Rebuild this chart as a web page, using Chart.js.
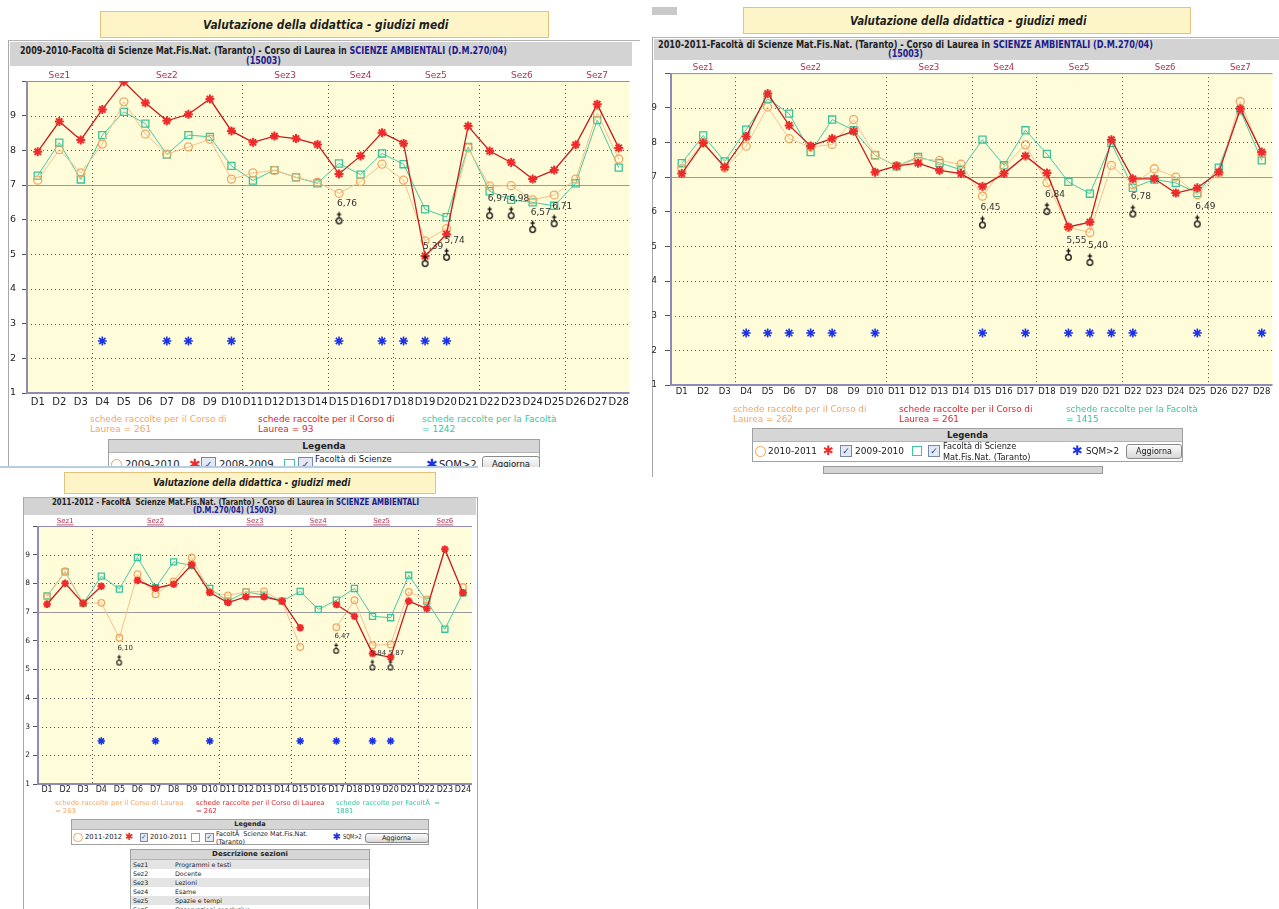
<!DOCTYPE html>
<html>
<head>
<meta charset="utf-8">
<script src="https://cdn.jsdelivr.net/npm/chart.js@4.4.1/dist/chart.umd.min.js"></script>
<style>
body{margin:0;width:1279px;height:909px;position:relative;overflow:hidden;background:#fff;font-family:"DejaVu Sans",sans-serif;color:#222}
canvas{position:absolute}
.title{position:absolute;background:#fdf5c8;border:1px solid #e3c27c;box-sizing:border-box}
.tt{position:absolute;white-space:nowrap;font-weight:bold;font-style:italic;font-size:12px;line-height:14px;transform-origin:0 50%;color:#1e1e1e}
.panel{position:absolute;border-left:1px solid #a8a8a8;border-top:1px solid #b4b4b4;box-sizing:border-box}
.band{position:absolute;background:#d3d3d3}
.hd{position:absolute;white-space:nowrap;font-weight:bold;font-size:10px;line-height:12px;transform-origin:0 50%}
.nv{color:#1c1c8c}
.note{position:absolute;white-space:nowrap}
.or{color:#f5a665}.rd{color:#e0262b}.gr{color:#3cc59e}
.leg{position:absolute;border:1px solid #a0a0a0;box-sizing:border-box;background:#fff}
.lh{background:#d6d6d6;font-weight:bold;text-align:center;border-bottom:1px solid #b4b4b4}
.leg span{position:absolute;white-space:nowrap;transform-origin:0 50%}
.circ{border:1.5px solid #f0a55c;border-radius:50%;box-sizing:border-box}
.sq{border:1.5px solid #3cc59e;box-sizing:border-box}
.chk{border:1px solid #7888aa;background:#e3e8f2;box-sizing:border-box;color:#2a3d8f;text-align:center;font-weight:bold}
.btn{border:1px solid #8a8a8a;border-radius:3px;background:linear-gradient(#fbfbfb,#d8d8d8);text-align:center;box-sizing:border-box}
.ast{line-height:1}
.tab{position:absolute;border:1px solid #a0a0a0;box-sizing:border-box;background:#fff;overflow:hidden}
.tab div{position:relative;height:9px;font-size:6.3px;line-height:9px;color:#222}
.tab div span{position:absolute}
</style>
</head>
<body>

<!-- chart 1 -->
<div style="position:absolute;left:0;top:0;width:640px;height:467px;overflow:hidden">
  <div class="title" style="left:100px;top:11px;width:449px;height:27px"></div>
  <span class="tt" data-w="245" style="left:203px;top:18px">Valutazione della didattica - giudizi medi</span>
  <div class="panel" style="left:8px;top:40px;width:632px;height:440px"></div>
  <div class="band" style="left:10px;top:42px;width:622px;height:24px"></div>
  <span class="hd" data-w="487" style="left:20px;top:45px">2009-2010-Facoltà di Scienze Mat.Fis.Nat. (Taranto) - Corso di Laurea in <span class="nv">SCIENZE AMBIENTALI (D.M.270/04)</span></span>
  <span class="hd nv" data-w="35" style="left:246px;top:55px">(15003)</span>
  <canvas id="c1" width="636" height="347" style="left:0;top:66px"></canvas>
  <div class="note or" style="left:90px;top:414px;font-size:9px;line-height:10.3px">schede raccolte per il Corso di<br>Laurea = 261</div>
  <div class="note rd" style="left:258px;top:414px;font-size:9px;line-height:10.3px">schede raccolte per il Corso di<br>Laurea = 93</div>
  <div class="note gr" style="left:422px;top:414px;font-size:9px;line-height:10.3px">schede raccolte per la Facoltà<br>= 1242</div>
  <div class="leg" style="left:108px;top:439px;width:432px;height:40px">
    <div class="lh" style="height:12px;font-size:9px;line-height:12px">Legenda</div>
    <span class="circ" style="left:2px;top:19px;width:11px;height:11px"></span>
    <span style="left:16px;top:18px;font-size:10px;line-height:13px">2009-2010</span>
    <span class="ast" style="left:80px;top:17px;font-size:14px;color:#ee2a2a">✱</span>
    <span class="chk" style="left:92px;top:17px;width:15px;height:15px;font-size:10px;line-height:13px">✓</span>
    <span style="left:110px;top:18px;font-size:10px;line-height:13px">2008-2009</span>
    <span class="sq" style="left:175px;top:19px;width:11px;height:11px"></span>
    <span class="chk" style="left:189px;top:17px;width:15px;height:15px;font-size:10px;line-height:13px">✓</span>
    <span style="left:206px;top:14px;font-size:8.6px;line-height:11px">Facoltà di Scienze<br>Mat.Fis.Nat. (Taranto)</span>
    <span class="ast" style="left:317px;top:17px;font-size:14px;color:#1b32e6">✱</span>
    <span style="left:330px;top:18px;font-size:10px;line-height:13px">SQM&gt;2</span>
    <span class="btn" style="left:373px;top:16px;width:58px;height:17px;font-size:8.5px;line-height:15px">Aggiorna</span>
  </div>
</div>
<div style="position:absolute;left:0;top:466px;width:478px;height:2px;background:#b9cde0"></div>

<!-- chart 2 -->
<div style="position:absolute;left:652px;top:7px;width:25px;height:8px;background:#c9c9c9"></div>
<div class="title" style="left:743px;top:7px;width:448px;height:27px"></div>
<span class="tt" data-w="236" style="left:850px;top:13.5px">Valutazione della didattica - giudizi medi</span>
<div class="panel" style="left:652px;top:37px;width:627px;height:440px"></div>
<div class="band" style="left:654px;top:39px;width:625px;height:21px"></div>
<span class="hd" data-w="495" style="left:658px;top:39px">2010-2011-Facoltà di Scienze Mat.Fis.Nat. (Taranto) - Corso di Laurea in <span class="nv">SCIENZE AMBIENTALI (D.M.270/04)</span></span>
<span class="hd nv" data-w="35" style="left:888px;top:48px">(15003)</span>
<canvas id="c2" width="633" height="345" style="left:646px;top:60px"></canvas>
<div class="note or" style="left:733px;top:404px;font-size:8.8px;line-height:10px">schede raccolte per il Corso di<br>Laurea = 262</div>
<div class="note rd" style="left:899px;top:404px;font-size:8.8px;line-height:10px">schede raccolte per il Corso di<br>Laurea = 261</div>
<div class="note gr" style="left:1066px;top:404px;font-size:8.8px;line-height:10px">schede raccolte per la Facoltà<br>= 1415</div>
<div class="leg" style="left:752px;top:428px;width:431px;height:34px">
  <div class="lh" style="height:12px;font-size:8.5px;line-height:12px">Legenda</div>
  <span class="circ" style="left:2px;top:17px;width:10.5px;height:10.5px"></span>
  <span style="left:15px;top:16px;font-size:9px;line-height:13px">2010-2011</span>
  <span class="ast" style="left:70px;top:15px;font-size:13px;color:#ee2a2a">✱</span>
  <span class="chk" style="left:87px;top:16px;width:12px;height:12px;font-size:9px;line-height:11px">✓</span>
  <span style="left:102px;top:16px;font-size:9px;line-height:13px">2009-2010</span>
  <span class="sq" style="left:159px;top:17px;width:10px;height:10px"></span>
  <span class="chk" style="left:175px;top:16px;width:12px;height:12px;font-size:9px;line-height:11px">✓</span>
  <span style="left:190px;top:12px;font-size:8.2px;line-height:11px">Facoltà di Scienze<br>Mat.Fis.Nat. (Taranto)</span>
  <span class="ast" style="left:319px;top:15px;font-size:13px;color:#1b32e6">✱</span>
  <span style="left:333px;top:16px;font-size:8.8px;line-height:13px">SQM&gt;2</span>
  <span class="btn" style="left:373px;top:15px;width:56px;height:15px;font-size:8px;line-height:13px">Aggiorna</span>
</div>
<div style="position:absolute;left:823px;top:466px;width:280px;height:8px;border:1px solid #9a9a9a;background:#d4d4d4;box-sizing:border-box"></div>

<!-- chart 3 -->
<div class="title" style="left:64px;top:472px;width:372px;height:21.5px"></div>
<span class="tt" data-w="197" style="left:153px;top:476px;font-size:10px;line-height:14px">Valutazione della didattica - giudizi medi</span>
<div class="panel" style="left:23px;top:497px;width:455px;height:420px;border-right:1px solid #a8a8a8"></div>
<div class="band" style="left:24px;top:498px;width:452px;height:16.5px"></div>
<span class="hd" data-w="367" style="left:52px;top:497px;font-size:8px;line-height:12px">2011-2012 - FacoltÃ&nbsp; Scienze Mat.Fis.Nat. (Taranto) - Corso di Laurea in <span class="nv">SCIENZE AMBIENTALI</span></span>
<span class="hd nv" data-w="84" style="left:193px;top:504.5px;font-size:8px;line-height:12px">(D.M.270/04) (15003)</span>
<canvas id="c3" width="454" height="285" style="left:24px;top:515px"></canvas>
<div class="note or" style="left:55px;top:800px;font-size:6.8px;line-height:7.7px">schede raccolte per il Corso di Laurea<br>= 263</div>
<div class="note rd" style="left:196px;top:800px;font-size:6.8px;line-height:7.7px">schede raccolte per il Corso di Laurea<br>= 262</div>
<div class="note gr" style="left:336px;top:800px;font-size:6.8px;line-height:7.7px">schede raccolte per FacoltÃ&nbsp; =<br>1881</div>
<div class="leg" style="left:71px;top:819px;width:358px;height:26px">
  <div class="lh" style="height:9px;font-size:6.5px;line-height:9px">Legenda</div>
  <span class="circ" style="left:1px;top:12.5px;width:9.5px;height:9.5px"></span>
  <span data-w="37" style="left:12.5px;top:12px;font-size:7px;line-height:10px">2011-2012</span>
  <span class="ast" style="left:53px;top:12px;font-size:10px;color:#ee2a2a">✱</span>
  <span class="chk" style="left:67.5px;top:13px;width:8.5px;height:8.5px;font-size:6.5px;line-height:7px">✓</span>
  <span data-w="37" style="left:78px;top:12px;font-size:7px;line-height:10px">2010-2011</span>
  <span class="sq" style="left:119px;top:12.5px;width:9px;height:9px"></span>
  <span class="chk" style="left:133px;top:13px;width:8.5px;height:8.5px;font-size:6.5px;line-height:7px">✓</span>
  <span data-w="92" style="left:143.5px;top:9.5px;font-size:6.5px;line-height:8.5px">FacoltÃ&nbsp; Scienze Mat.Fis.Nat.<br>(Taranto)</span>
  <span class="ast" style="left:260.5px;top:12px;font-size:10px;color:#1b32e6">✱</span>
  <span data-w="18.5" style="left:271px;top:12px;font-size:7px;line-height:10px">SQM&gt;2</span>
  <span class="btn" style="left:292.5px;top:12.5px;width:64px;height:10px;font-size:6.5px;line-height:8px">Aggiorna</span>
</div>
<div class="tab" style="left:130px;top:849px;width:240px;height:70px">
  <div class="lh" style="height:9px;font-size:7px;line-height:9px">Descrizione sezioni</div>
  <div style="background:#e4e4e4"><span style="left:2px">Sez1</span><span style="left:44px">Programmi e testi</span></div>
  <div><span style="left:2px">Sez2</span><span style="left:44px">Docente</span></div>
  <div style="background:#e4e4e4"><span style="left:2px">Sez3</span><span style="left:44px">Lezioni</span></div>
  <div><span style="left:2px">Sez4</span><span style="left:44px">Esame</span></div>
  <div style="background:#e4e4e4"><span style="left:2px">Sez5</span><span style="left:44px">Spazie e tempi</span></div>
  <div><span style="left:2px">Sez6</span><span style="left:44px">Osservazioni conclusive</span></div>
</div>

<script>
// ---- 2009-2010 (top left)
const days1 = ['D1','D2','D3','D4','D5','D6','D7','D8','D9','D10','D11','D12','D13','D14','D15','D16','D17','D18','D19','D20','D21','D22','D23','D24','D25','D26','D27','D28']
const sez1 = ['Sez1','Sez2','Sez3','Sez4','Sez5','Sez6','Sez7']
const sezFirst1 = [0,3,10,14,17,21,25]
const orange1 = [7.14,8.02,7.35,8.18,9.40,8.47,7.89,8.10,8.32,7.17,7.35,7.42,7.22,7.08,6.76,7.10,7.60,7.14,5.39,5.74,8.07,6.97,6.98,6.57,6.71,7.17,9.07,7.75]
const red1 = [7.96,8.83,8.30,9.18,9.98,9.37,8.85,9.04,9.48,8.56,8.23,8.41,8.34,8.17,7.32,7.84,8.51,8.20,4.95,5.58,8.70,7.98,7.65,7.17,7.43,8.16,9.33,8.07]
const green1 = [7.27,8.22,7.16,8.44,9.11,8.77,7.88,8.44,8.39,7.55,7.13,7.43,7.22,7.05,7.62,7.30,7.91,7.60,6.30,6.07,8.10,6.82,6.57,6.50,6.40,7.05,8.87,7.50]
const sqm1 = [null,null,null,2.5,null,null,2.5,2.5,null,2.5,null,null,null,null,2.5,null,2.5,2.5,2.5,2.5,null,null,null,null,null,null,null,null]
const flag1 = [null,null,null,null,null,null,null,null,null,null,null,null,null,null,6.05,null,null,null,4.82,5.00,null,6.20,6.20,5.80,5.97,null,null,null]

// ---- 2010-2011 (top right)
const days2 = days1
const sez2 = sez1
const sezFirst2 = [0,3,10,14,17,21,25]
const orange2 = [7.24,8.00,7.26,7.89,9.02,8.11,7.87,7.94,8.66,7.63,7.32,7.53,7.48,7.37,6.45,7.29,7.93,6.84,5.55,5.40,7.34,6.78,7.24,7.00,6.49,7.10,9.18,7.67]
const red2 = [7.10,7.98,7.29,8.17,9.41,8.49,7.90,8.11,8.32,7.14,7.32,7.40,7.19,7.10,6.73,7.10,7.61,7.12,5.56,5.70,8.08,6.95,6.95,6.54,6.69,7.14,8.97,7.72]
const green2 = [7.40,8.20,7.45,8.37,9.26,8.83,7.72,8.66,8.35,7.63,7.31,7.58,7.41,7.21,8.08,7.34,8.35,7.67,6.86,6.52,7.98,6.69,6.93,6.83,6.54,7.27,8.92,7.48]
const sqm2 = [null,null,null,2.5,2.5,2.5,2.5,2.5,null,2.5,null,null,null,null,2.5,null,2.5,null,2.5,2.5,2.5,2.5,null,null,2.5,null,null,2.5]
const flag2 = [null,null,null,null,null,null,null,null,null,null,null,null,null,null,5.70,null,null,6.09,4.77,4.62,null,6.02,null,null,5.73,null,null,null]

// ---- 2011-2012 (bottom left)
const days3 = ['D1','D2','D3','D4','D5','D6','D7','D8','D9','D10','D11','D12','D13','D14','D15','D16','D17','D18','D19','D20','D21','D22','D23','D24']
const sez3 = ['Sez1','Sez2','Sez3','Sez4','Sez5','Sez6']
const sezFirst3 = [0,3,10,14,17,21]
const orange3 = [7.53,8.42,7.30,7.32,6.10,8.32,7.62,8.07,8.90,7.70,7.58,7.70,7.72,7.38,5.78,null,6.47,7.41,5.84,5.87,7.70,7.44,null,7.87]
const red3 = [7.27,8.00,7.30,7.90,null,8.10,7.83,7.97,8.65,7.68,7.33,7.53,7.53,7.38,6.45,null,7.26,6.85,5.55,5.42,7.38,7.12,9.19,7.67]
const green3 = [7.56,8.40,7.30,8.25,7.80,8.90,7.85,8.75,8.62,7.82,7.38,7.70,7.59,7.38,7.72,7.09,7.41,7.82,6.85,6.80,8.28,7.38,6.40,7.67]
const sqm3 = [null,null,null,2.5,null,null,2.5,null,null,2.5,null,null,null,null,2.5,null,2.5,null,2.5,2.5,null,null,null,null]
const flag3 = [null,null,null,null,5.32,null,null,null,null,null,null,null,null,null,null,null,5.73,null,5.15,5.15,null,null,null,null]

Chart.defaults.font.family = '"DejaVu Sans"'
Chart.defaults.color = '#222'

// little "low value" marker
function markerImg(k){
  const c = document.createElement('canvas')
  c.width = Math.round(9*k)
  c.height = Math.round(15*k)
  const g = c.getContext('2d')
  g.scale(k,k)
  g.strokeStyle = '#111'
  g.lineWidth = 1.3
  g.beginPath(); g.arc(4.5,10.5,2.8,0,Math.PI*2); g.stroke()
  g.beginPath(); g.moveTo(4.5,7.7); g.lineTo(4.5,1.5); g.moveTo(2.5,4); g.lineTo(6.5,4); g.stroke()
  return c
}

function sheet(names, first, orange, flag, s){
  return {
    id:'sheet',
    beforeDraw(chart){
      const {ctx, chartArea:a} = chart
      ctx.save()
      ctx.fillStyle = '#fffcd9'
      ctx.fillRect(a.left, a.top, a.right-a.left, a.bottom-a.top)
      ctx.restore()
    },
    beforeDatasetsDraw(chart){
      const {ctx, chartArea:a, scales:{x,y}} = chart
      ctx.save()
      ctx.lineWidth = 1
      for (let v = 2; v <= 9; v++) {
        const py = Math.round(y.getPixelForValue(v)) + 0.5
        if (v === 7) { ctx.setLineDash([]); ctx.strokeStyle = '#9a9a9a' }
        else { ctx.setLineDash([1,3]); ctx.strokeStyle = '#555' }
        ctx.beginPath(); ctx.moveTo(a.left, py); ctx.lineTo(a.right, py); ctx.stroke()
      }
      ctx.setLineDash([1,3]); ctx.strokeStyle = '#555'
      first.slice(1).forEach(i => {
        const px = Math.round((x.getPixelForValue(i-1) + x.getPixelForValue(i))/2) + 0.5
        ctx.beginPath(); ctx.moveTo(px, a.top); ctx.lineTo(px, a.bottom); ctx.stroke()
      })
      ctx.setLineDash([])
      ctx.strokeStyle = '#8f8bb6'
      ctx.beginPath(); ctx.moveTo(a.left, a.top+0.5); ctx.lineTo(a.right, a.top+0.5); ctx.stroke()
      ctx.lineWidth = 2
      ctx.beginPath(); ctx.moveTo(a.left, a.top); ctx.lineTo(a.left, a.bottom); ctx.lineTo(a.right, a.bottom); ctx.stroke()
      // section names above the plot
      ctx.font = s.fs + 'px "DejaVu Sans"'
      ctx.fillStyle = '#b3344f'
      ctx.textAlign = 'center'
      ctx.textBaseline = 'middle'
      names.forEach((n, k) => {
        const last = k+1 < first.length ? first[k+1]-1 : x.max
        const px = (x.getPixelForValue(first[k]) + x.getPixelForValue(last))/2
        ctx.fillText(n, px, a.top - s.sezDy)
        if (s.ul) {
          const w = ctx.measureText(n).width
          ctx.fillRect(px - w/2, a.top - s.sezDy + s.fs/2, w, 0.8)
        }
      })
      ctx.restore()
    },
    afterDatasetsDraw(chart){
      const {ctx, scales:{x,y}} = chart
      ctx.save()
      ctx.font = s.fl + 'px "DejaVu Sans"'
      ctx.fillStyle = '#333'
      ctx.textAlign = 'left'
      ctx.textBaseline = 'middle'
      flag.forEach((v, i) => {
        if (v === null) return
        ctx.fillText(orange[i].toFixed(2).replace('.', ','), x.getPixelForValue(i) - 2, y.getPixelForValue(v) - s.lblDy)
      })
      ctx.restore()
    }
  }
}

function draw(id, days, names, first, orange, red, green, sqm, flag, s){
  new Chart(document.getElementById(id), {
    type:'line',
    data:{
      labels:days,
      datasets:[
        {data:flag, showLine:false, pointStyle:markerImg(s.mk), pointRadius:5},
        {data:sqm, showLine:false, pointStyle:'star', pointRadius:s.rs, pointBorderColor:'#1b32e6', pointBorderWidth:1.6},
        {data:red, borderColor:'#c81c1c', borderWidth:s.lw+0.3, pointStyle:'star', pointRadius:s.rs, pointBorderColor:'#ef2a2a', pointBorderWidth:2},
        {data:orange, borderColor:'#f6c290', borderWidth:s.lw, pointStyle:'circle', pointRadius:s.rc, pointBorderColor:'#f3a862', pointBackgroundColor:'rgba(0,0,0,0)', pointBorderWidth:1.3},
        {data:green, borderColor:'#47c9a4', borderWidth:s.lw, pointStyle:'rect', pointRadius:s.rr, pointBorderColor:'#39c39b', pointBackgroundColor:'rgba(0,0,0,0)', pointBorderWidth:1.3}
      ]
    },
    options:{
      responsive:false,
      animation:false,
      devicePixelRatio:1,
      layout:{padding:{top:s.top, right:s.right}},
      plugins:{legend:{display:false}, tooltip:{enabled:false}},
      scales:{
        x:{
          offset:true,
          grid:{display:false, drawTicks:false},
          border:{display:false},
          ticks:{autoSkip:false, maxRotation:0, font:{size:s.fx}, color:'#222', padding:s.px},
          afterFit(sc){ sc.height = s.xh }
        },
        y:{
          min:1, max:10,
          grid:{drawOnChartArea:false, tickLength:s.tl, color:'#555'},
          border:{display:false},
          ticks:{stepSize:1, font:{size:s.fy}, color:'#222', padding:s.py, callback:v => v == 10 ? '' : v},
          afterFit(sc){ sc.width = s.yw }
        }
      }
    },
    plugins:[sheet(names, first, orange, flag, s)]
  })
}

draw('c1', days1, sez1, sezFirst1, orange1, red1, green1, sqm1, flag1,
  {top:15, right:2, yw:27, xh:20, tl:5, py:6, px:3, fx:10, fy:9.5, fs:9, fl:9, lw:1, rc:4, rr:5, rs:4.5, mk:1, sezDy:5, lblDy:14, ul:false})
draw('c2', days2, sez2, sezFirst2, orange2, red2, green2, sqm2, flag2,
  {top:13, right:3, yw:25, xh:20, tl:6, py:8, px:2, fx:8.5, fy:8.5, fs:8.6, fl:9, lw:1, rc:4, rr:5, rs:4.5, mk:1, sezDy:5, lblDy:14, ul:false})
draw('c3', days3, sez3, sezFirst3, orange3, red3, green3, sqm3, flag3,
  {top:11, right:0, yw:14, xh:16, tl:5, py:3, px:1, fx:8, fy:7.5, fs:7, fl:7, lw:1, rc:3.3, rr:4.3, rs:3.8, mk:0.85, sezDy:5, lblDy:12, ul:true})

// squeeze the narrow texts to the widths seen in the picture
document.querySelectorAll('[data-w]').forEach(el => {
  el.style.transform = 'scaleX(' + (el.dataset.w / el.offsetWidth) + ')'
})
</script>
</body>
</html>
